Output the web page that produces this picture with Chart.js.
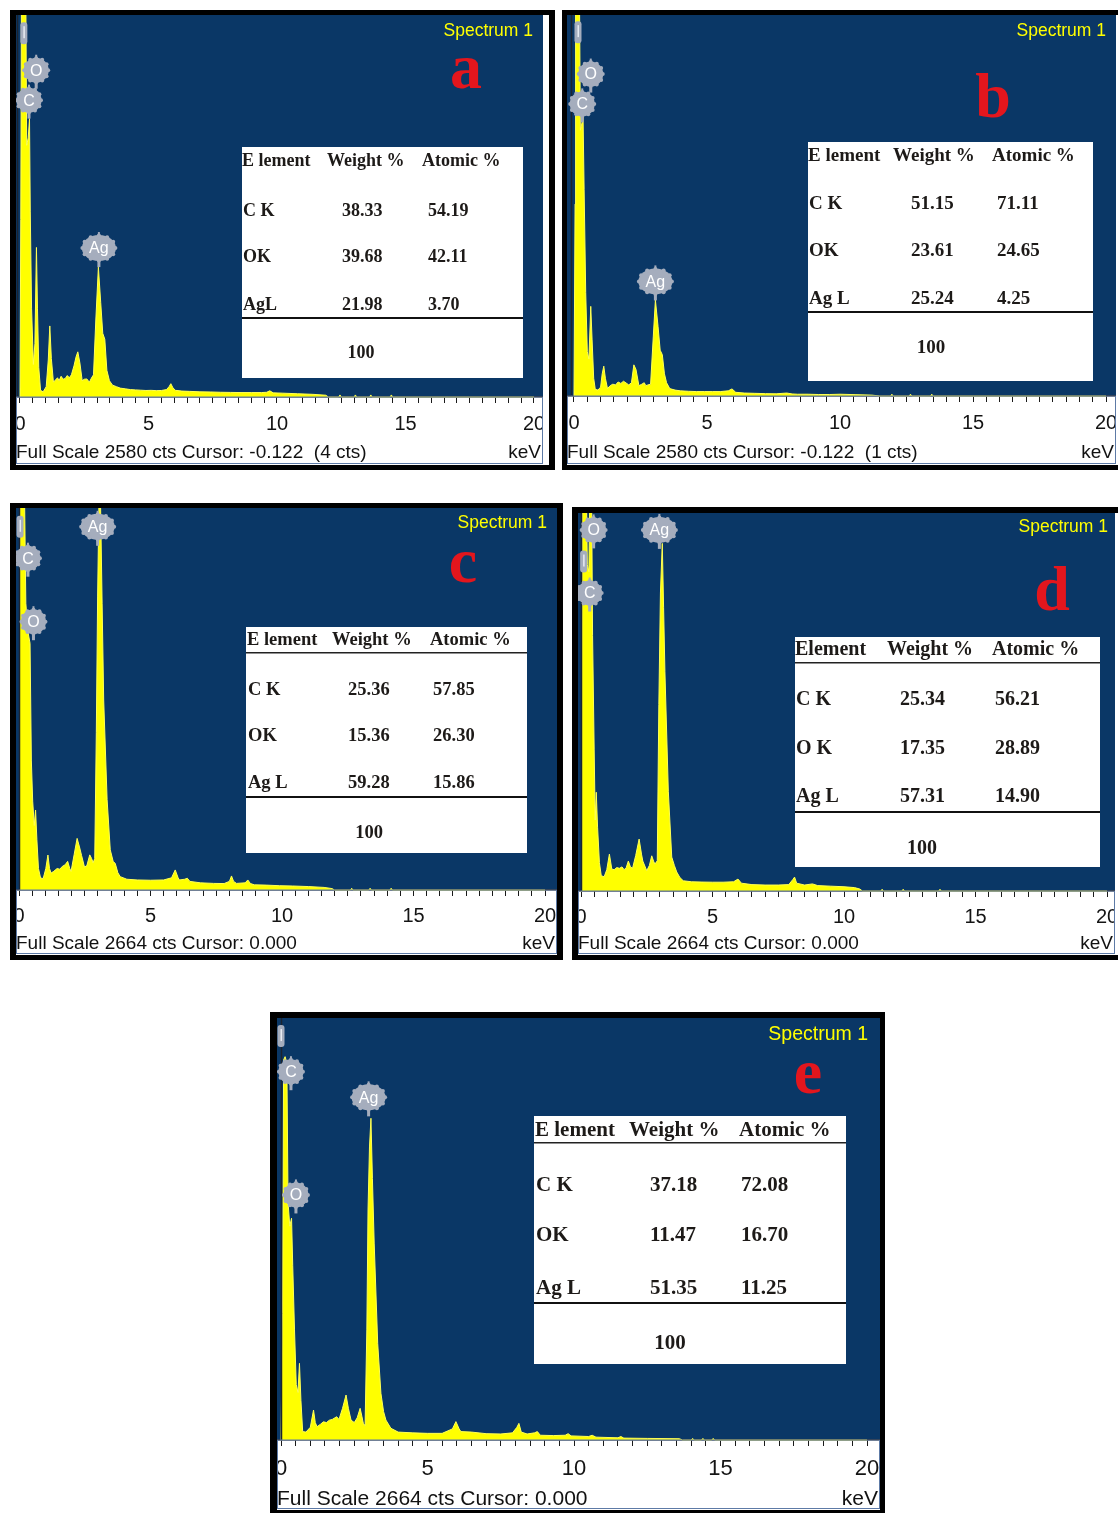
<!DOCTYPE html>
<html>
<head>
<meta charset="utf-8">
<script src="https://cdn.jsdelivr.net/npm/chart.js@4.4.1/dist/chart.umd.min.js"></script>
<style>
  html, body { margin: 0; padding: 0; background: #ffffff; }
  body { width: 1118px; height: 1513px; position: relative; overflow: hidden; }
  .frame { position: absolute; background: #000000; }
  .inner { position: absolute; background: #ffffff; }
  canvas { position: absolute; display: block; }
  #overlay { position: absolute; left: 0; top: 0; pointer-events: none; z-index: 10; }
</style>
</head>
<body>
<svg id="overlay" width="1118" height="1513" xmlns="http://www.w3.org/2000/svg"></svg>
<script>
// ---------- EDS spectra: [energy keV, counts] ----------
const SPECTRUM_A = [[0,0],[0.03,1200],[0.06,2900],[0.22,2900],[0.26,1700],[0.32,1750],[0.37,1880],[0.4,1250],[0.45,600],[0.52,220],[0.58,360],[0.64,1010],[0.68,600],[0.73,200],[0.8,45],[0.9,35],[1.02,70],[1.1,250],[1.16,480],[1.22,260],[1.3,100],[1.38,115],[1.46,130],[1.52,110],[1.6,140],[1.68,120],[1.76,125],[1.84,145],[1.92,130],[2.0,150],[2.1,210],[2.18,270],[2.25,305],[2.33,230],[2.42,110],[2.5,120],[2.6,122],[2.7,100],[2.78,128],[2.86,150],[2.95,520],[3.05,877],[3.14,640],[3.22,430],[3.3,390],[3.38,180],[3.48,110],[3.6,80],[3.75,70],[3.9,60],[4.1,55],[4.3,50],[4.5,48],[4.7,46],[4.9,44],[5.1,45],[5.3,43],[5.5,44],[5.7,50],[5.8,70],[5.87,90],[5.95,62],[6.05,45],[6.3,40],[6.6,38],[7.0,35],[7.4,34],[7.8,32],[8.2,31],[8.6,30],[9.0,30],[9.4,30],[9.6,32],[9.72,42],[9.85,28],[10.2,26],[10.8,22],[11.4,18],[11.9,12],[12.0,0],[12.4,0],[12.45,14],[12.5,0],[13.0,0],[13.05,14],[13.1,0],[13.6,0],[13.65,14],[13.7,0],[14.4,0],[14.45,14],[14.5,0],[20,0]];

const SPECTRUM_B = [[0,0],[0.04,1300],[0.06,2900],[0.2,2900],[0.24,1800],[0.3,1850],[0.34,1900],[0.38,1400],[0.44,700],[0.5,300],[0.56,250],[0.63,607],[0.68,380],[0.74,120],[0.8,45],[0.9,40],[1.0,60],[1.06,150],[1.12,202],[1.18,120],[1.26,50],[1.36,70],[1.46,80],[1.56,75],[1.66,95],[1.76,85],[1.86,100],[1.96,88],[2.06,75],[2.16,90],[2.25,211],[2.33,180],[2.44,70],[2.55,80],[2.64,90],[2.7,70],[2.78,75],[2.88,80],[2.98,400],[3.06,650],[3.16,470],[3.24,310],[3.32,280],[3.4,150],[3.48,90],[3.6,50],[3.8,40],[4.0,35],[4.3,32],[4.6,30],[4.9,30],[5.2,30],[5.5,30],[5.8,35],[5.94,48],[6.08,25],[6.4,20],[6.8,18],[7.2,16],[7.6,15],[8.0,20],[8.2,14],[8.4,12],[8.8,12],[9.2,10],[9.6,10],[10.0,12],[10.6,9],[11.2,6],[11.5,0],[11.9,0],[11.95,12],[12.0,0],[12.6,0],[12.65,12],[12.7,0],[13.4,0],[13.45,12],[13.5,0],[20,0]];

const SPECTRUM_C = [[0,0],[0.02,1500],[0.04,2900],[0.2,2900],[0.26,2000],[0.34,1800],[0.42,1720],[0.47,900],[0.52,620],[0.58,450],[0.63,558],[0.68,350],[0.74,150],[0.82,84],[0.92,80],[1.02,150],[1.1,244],[1.16,150],[1.22,118],[1.32,130],[1.45,150],[1.55,145],[1.65,165],[1.75,175],[1.85,200],[1.93,150],[1.98,130],[2.1,250],[2.21,360],[2.3,300],[2.38,240],[2.49,160],[2.58,170],[2.69,245],[2.76,220],[2.82,190],[2.88,220],[2.94,1100],[2.99,2050],[3.04,2700],[3.1,2700],[3.16,2000],[3.22,1325],[3.35,630],[3.47,280],[3.58,200],[3.66,185],[3.76,120],[3.85,93],[4.1,75],[4.5,70],[5.0,68],[5.5,70],[5.8,85],[5.94,140],[6.05,85],[6.1,70],[6.3,75],[6.4,82],[6.5,60],[6.9,50],[7.4,46],[7.8,45],[8.0,60],[8.08,98],[8.16,60],[8.27,46],[8.6,50],[8.7,70],[8.8,45],[8.95,36],[9.4,34],[9.9,30],[10.4,28],[11.0,24],[11.6,18],[11.9,10],[12.0,0],[12.6,0],[12.65,12],[12.7,0],[13.3,0],[13.35,12],[13.4,0],[14.1,0],[14.15,12],[14.2,0],[20,0]];

const SPECTRUM_D = [[0,0],[0.03,1500],[0.06,2900],[0.2,2900],[0.24,2300],[0.3,2250],[0.34,2900],[0.4,2900],[0.44,1800],[0.5,1000],[0.54,500],[0.58,696],[0.63,450],[0.7,200],[0.77,108],[0.88,100],[0.98,150],[1.08,260],[1.17,155],[1.26,150],[1.36,165],[1.46,160],[1.56,170],[1.64,150],[1.72,165],[1.8,211],[1.88,170],[1.96,160],[2.08,250],[2.21,366],[2.3,260],[2.35,211],[2.5,143],[2.6,180],[2.69,248],[2.76,210],[2.81,190],[2.9,213],[2.96,1314],[3.02,2100],[3.09,2450],[3.14,2000],[3.19,1549],[3.32,703],[3.45,239],[3.55,180],[3.64,134],[3.76,95],[3.89,72],[4.2,65],[4.6,63],[5.0,62],[5.4,62],[5.8,65],[5.97,84],[6.1,55],[6.5,45],[7.0,42],[7.5,42],[7.9,45],[8.05,80],[8.12,98],[8.2,55],[8.5,42],[8.8,50],[9.0,38],[9.5,34],[10.0,30],[10.4,24],[10.6,14],[10.7,0],[11.4,0],[11.45,12],[11.5,0],[12.2,0],[12.25,12],[12.3,0],[13.6,0],[13.65,12],[13.7,0],[20,0]];

const SPECTRUM_E = [[0,0],[0.05,800],[0.09,2400],[0.14,2420],[0.2,2380],[0.24,1500],[0.3,1350],[0.36,1400],[0.4,1100],[0.46,700],[0.52,350],[0.58,300],[0.63,484],[0.68,250],[0.74,53],[0.85,50],[1.0,80],[1.11,189],[1.17,110],[1.23,84],[1.35,100],[1.45,115],[1.55,110],[1.65,125],[1.75,130],[1.9,147],[1.98,130],[2.1,200],[2.22,284],[2.3,200],[2.39,126],[2.5,110],[2.6,140],[2.7,200],[2.76,150],[2.81,105],[2.87,90],[2.93,700],[2.97,1452],[3.02,1850],[3.07,2031],[3.12,1650],[3.18,1243],[3.3,610],[3.41,295],[3.5,180],[3.58,126],[3.75,74],[4.0,50],[4.5,45],[5.0,42],[5.5,42],[5.85,70],[5.97,116],[6.08,70],[6.14,53],[6.5,50],[7.0,40],[7.5,38],[7.9,45],[8.05,80],[8.12,105],[8.2,50],[8.4,38],[8.65,45],[8.75,53],[8.85,30],[9.3,28],[9.7,30],[9.8,40],[9.9,26],[10.5,22],[10.62,30],[10.75,18],[11.5,14],[11.6,22],[11.7,12],[12.5,10],[13.6,8],[13.7,0],[14.0,0],[14.05,10],[14.1,0],[14.35,0],[14.4,10],[14.45,0],[14.7,0],[14.75,10],[14.8,0],[20,0]];

// ---------- element markers: label, energy (keV), counts at badge centre ----------
const PEAKS_A = [{ label: '', keV: 0.15, cts: 2457 }, { label: 'O', keV: 0.63, cts: 2207 }, { label: 'C', keV: 0.35, cts: 2005 }, { label: 'Ag', keV: 3.07, cts: 1006 }];
const PEAKS_B = [{ label: '', keV: 0.15, cts: 2464 }, { label: 'O', keV: 0.63, cts: 2180 }, { label: 'C', keV: 0.31, cts: 1978 }, { label: 'Ag', keV: 3.06, cts: 776 }];
const PEAKS_C = [{ label: '', keV: 0.04, cts: 2533 }, { label: 'C', keV: 0.34, cts: 2314 }, { label: 'O', keV: 0.55, cts: 1871 }, { label: 'Ag', keV: 2.99, cts: 2533 }];
const PEAKS_D = [{ label: '', keV: 0.1, cts: 2322 }, { label: 'O', keV: 0.48, cts: 2545 }, { label: 'C', keV: 0.33, cts: 2100 }, { label: 'Ag', keV: 2.98, cts: 2545 }];
const PEAKS_E = [{ label: '', keV: 0.0, cts: 2550 }, { label: 'C', keV: 0.34, cts: 2325 }, { label: 'O', keV: 0.51, cts: 1547 }, { label: 'Ag', keV: 2.99, cts: 2163 }];

// ---------- acquisition readouts ----------
const FULL_SCALE = [2580, 2580, 2664, 2664, 2664];
const CURSOR_KEV = [-0.122, -0.122, 0.000, 0.000, 0.000];
const CURSOR_CTS = [4, 1, null, null, null];
const PANEL_LETTERS = ['a', 'b', 'c', 'd', 'e'];
const SPECTRUM_TITLE = 'Spectrum 1';
const KEV_TICK_LABELS = [0, 5, 10, 15, 20];
const AXIS_UNIT = 'keV';

// ---------- quantification tables ----------
const TABLE_HEAD = ['E lement', 'Weight %', 'Atomic %'];
const TABLE_HEAD_D = ['Element', 'Weight %', 'Atomic %'];
const ELEMENT_ROWS_A = ['C K', 'OK', 'AgL'];
const ELEMENT_ROWS_B = ['C K', 'OK', 'Ag L'];
const ELEMENT_ROWS_C = ['C K', 'OK', 'Ag L'];
const ELEMENT_ROWS_D = ['C K', 'O K', 'Ag L'];
const ELEMENT_ROWS_E = ['C K', 'OK', 'Ag L'];
const WEIGHT_A = [38.33, 39.68, 21.98], ATOMIC_A = [54.19, 42.11, 3.70];
const WEIGHT_B = [51.15, 23.61, 25.24], ATOMIC_B = [71.11, 24.65, 4.25];
const WEIGHT_C = [25.36, 15.36, 59.28], ATOMIC_C = [57.85, 26.30, 15.86];
const WEIGHT_D = [25.34, 17.35, 57.31], ATOMIC_D = [56.21, 28.89, 14.90];
const WEIGHT_E = [37.18, 11.47, 51.35], ATOMIC_E = [72.08, 16.70, 11.25];
const TOTAL = 100;

// ---------- panel layout ----------
const PANELS = [
  { frame: [10, 10, 545, 460], inner: [16, 15, 533, 450], plot: [16, 15, 527, 450], baseline: 397, zeroX: 20, ppk: 25.7,
    spectrum: SPECTRUM_A, peaks: PEAKS_A, tickFont: 20, tickPad: 9, footFont: 19, footY: 458, specFont: 17.5, specRight: 533, specY: 36,
    letterX: 466, letterY: 88,
    table: { box: [242, 147, 281, 231], head: TABLE_HEAD, headY: 160, headX: [242, 327, 422], headLine: null,
      rows: ELEMENT_ROWS_A, weight: WEIGHT_A, atomic: ATOMIC_A, rowY: [210, 256, 304], nameX: 243, weightX: 342, atomicX: 428,
      divY: 317, totalY: 352, totalX: 361, font: 18 } },
  { frame: [562, 10, 562, 460], inner: [567, 15, 551, 450], plot: [567, 15, 549, 450], baseline: 396, zeroX: 574, ppk: 26.6,
    spectrum: SPECTRUM_B, peaks: PEAKS_B, tickFont: 20, tickPad: 9, footFont: 19, footY: 458, specFont: 17.5, specRight: 1106, specY: 36,
    letterX: 993, letterY: 117,
    table: { box: [808, 142, 285, 239], head: TABLE_HEAD, headY: 155, headX: [808, 893, 992], headLine: null,
      rows: ELEMENT_ROWS_B, weight: WEIGHT_B, atomic: ATOMIC_B, rowY: [203, 250, 298], nameX: 809, weightX: 911, atomicX: 997,
      divY: 311, totalY: 347, totalX: 931, font: 19 } },
  { frame: [10, 503, 553, 457], inner: [16, 508, 541, 447], plot: [16, 508, 541, 447], baseline: 890, zeroX: 19, ppk: 26.3,
    spectrum: SPECTRUM_C, peaks: PEAKS_C, tickFont: 20, tickPad: 8, footFont: 19, footY: 949, specFont: 17.5, specRight: 547, specY: 528,
    letterX: 463, letterY: 582,
    table: { box: [246, 627, 281, 226], head: TABLE_HEAD, headY: 639, headX: [247, 332, 430], headLine: 652,
      rows: ELEMENT_ROWS_C, weight: WEIGHT_C, atomic: ATOMIC_C, rowY: [689, 735, 782], nameX: 248, weightX: 348, atomicX: 433,
      divY: 796, totalY: 832, totalX: 369, font: 18.5 } },
  { frame: [572, 507, 552, 453], inner: [578, 513, 540, 442], plot: [578, 513, 537, 442], baseline: 891, zeroX: 581, ppk: 26.3,
    spectrum: SPECTRUM_D, peaks: PEAKS_D, tickFont: 20, tickPad: 8, footFont: 19, footY: 949, specFont: 17.5, specRight: 1108, specY: 532,
    letterX: 1052, letterY: 610,
    table: { box: [795, 637, 305, 230], head: TABLE_HEAD_D, headY: 648, headX: [795, 887, 992], headLine: 662,
      rows: ELEMENT_ROWS_D, weight: WEIGHT_D, atomic: ATOMIC_D, rowY: [698, 747, 795], nameX: 796, weightX: 900, atomicX: 995,
      divY: 811, totalY: 847, totalX: 922, font: 20 } },
  { frame: [270, 1012, 615, 504], inner: [277, 1018, 603, 492], plot: [277, 1018, 603, 492], baseline: 1440, zeroX: 281, ppk: 29.3,
    spectrum: SPECTRUM_E, peaks: PEAKS_E, tickFont: 22, tickPad: 10, footFont: 21, footY: 1505, specFont: 19.5, specRight: 868, specY: 1040,
    letterX: 808, letterY: 1093,
    table: { box: [534, 1116, 312, 248], head: TABLE_HEAD, headY: 1129, headX: [535, 629, 739], headLine: 1142,
      rows: ELEMENT_ROWS_E, weight: WEIGHT_E, atomic: ATOMIC_E, rowY: [1184, 1234, 1287], nameX: 536, weightX: 650, atomicX: 741,
      divY: 1302, totalY: 1342, totalX: 670, font: 21 } }
];

const PLOT_BLUE = '#0a3766';
const TRACE_YELLOW = '#ffff00';
const BADGE_GREY = '#a5adbd';
const SANS = '"Liberation Sans", Arial, sans-serif';
const SERIF = '"Liberation Serif", "Times New Roman", serif';

// tick marks every 0.5 keV, labelled every 5 keV
const TICK_VALUES = [];
for (let v = 0; v <= 20; v += 0.5) TICK_VALUES.push(v);

// ---------- Chart.js plugins ----------
const plotBackground = {
  id: 'plotBackground',
  beforeDraw(chart) {
    const { ctx, chartArea: a, width } = chart;
    ctx.save();
    ctx.fillStyle = PLOT_BLUE;
    ctx.fillRect(0, 0, width, a.bottom);
    ctx.restore();
  }
};

function drawBadge(ctx, x, y, text) {
  ctx.fillStyle = BADGE_GREY;
  if (!text) {
    ctx.beginPath();
    ctx.roundRect(x - 3.5, y - 11, 7, 22, 3);
    ctx.fill();
    ctx.fillStyle = '#e8ebf2';
    ctx.fillRect(x - 0.5, y - 7, 1.5, 12);
    return;
  }
  const rx = text.length > 1 ? 17 : 12.5;
  const ry = text.length > 1 ? 13 : 12.5;
  // pin under the badge pointing at the peak
  ctx.fillRect(x - 1.5, y + ry - 2, 3, 8);
  ctx.fillRect(x - 1, y - ry - 3, 2, 4);
  ctx.beginPath();
  ctx.ellipse(x, y, rx, ry, 0, 0, Math.PI * 2);
  ctx.fill();
  for (let k = 0; k < 12; k++) {
    const t = k * Math.PI / 6;
    ctx.beginPath();
    ctx.arc(x + Math.cos(t) * (rx - 0.5), y + Math.sin(t) * (ry - 0.5), 2, 0, Math.PI * 2);
    ctx.fill();
  }
  ctx.fillStyle = '#ffffff';
  ctx.font = '16px ' + SANS;
  ctx.textAlign = 'center';
  ctx.textBaseline = 'middle';
  ctx.fillText(text, x, y + 1);
}

const overlays = {
  id: 'overlays',
  afterDatasetsDraw(chart, args, opts) {
    const { ctx, chartArea: a, scales, width } = chart;
    ctx.save();
    ctx.beginPath();
    ctx.rect(0, 0, width, a.bottom);
    ctx.clip();
    // cursor marker
    const cx = Math.round(scales.x.getPixelForValue(opts.cursor)) + 0.5;
    ctx.strokeStyle = '#1c2430';
    ctx.lineWidth = 1.5;
    ctx.beginPath();
    ctx.moveTo(cx, 0);
    ctx.lineTo(cx, a.bottom);
    ctx.stroke();
    // element badges
    opts.peaks.forEach(p => {
      drawBadge(ctx, scales.x.getPixelForValue(p.keV), scales.y.getPixelForValue(p.cts), p.label);
    });
    ctx.restore();
  },
  afterDraw(chart) {
    const { ctx, chartArea: a, width, height } = chart;
    ctx.save();
    ctx.strokeStyle = '#5d7aa6';
    ctx.lineWidth = 1;
    ctx.strokeRect(0.5, a.bottom, width - 1, height - a.bottom - 1.5);
    ctx.restore();
  }
};

// ---------- build panels ----------
function box(cls, r) {
  const d = document.createElement('div');
  d.className = cls;
  d.style.left = r[0] + 'px';
  d.style.top = r[1] + 'px';
  d.style.width = r[2] + 'px';
  d.style.height = r[3] + 'px';
  document.body.appendChild(d);
  return d;
}

PANELS.forEach((p, i) => {
  box('frame', p.frame);
  box('inner', p.inner);
  const [px, py, pw, ph] = p.plot;
  const cv = document.createElement('canvas');
  cv.width = pw; cv.height = ph;
  cv.style.left = px + 'px'; cv.style.top = py + 'px';
  cv.style.width = pw + 'px'; cv.style.height = ph + 'px';
  document.body.appendChild(cv);
  const axisH = py + ph - p.baseline;

  new Chart(cv.getContext('2d'), {
    type: 'line',
    data: {
      datasets: [{
        data: p.spectrum.map(([e, c]) => ({ x: e, y: c })),
        fill: 'origin',
        backgroundColor: TRACE_YELLOW,
        borderColor: '#ffff55',
        borderWidth: 1,
        pointRadius: 0,
        tension: 0,
        clip: false
      }]
    },
    options: {
      responsive: false,
      animation: false,
      devicePixelRatio: 1,
      layout: { padding: 0, autoPadding: false },
      plugins: {
        legend: { display: false },
        tooltip: { enabled: false },
        overlays: { cursor: CURSOR_KEV[i], peaks: p.peaks }
      },
      scales: {
        x: {
          type: 'linear',
          min: (px - p.zeroX) / p.ppk,
          max: (px + pw - p.zeroX) / p.ppk,
          afterBuildTicks: s => { s.ticks = TICK_VALUES.map(v => ({ value: v })); },
          afterFit: s => { s.height = axisH; s.paddingLeft = 0; s.paddingRight = 0; },
          ticks: {
            autoSkip: false, maxRotation: 0, minRotation: 0, padding: p.tickPad,
            color: '#141414',
            font: { family: SANS, size: p.tickFont },
            callback: v => KEV_TICK_LABELS.includes(v) ? String(v) : ''
          },
          grid: { display: true, drawOnChartArea: false, drawTicks: true, tickLength: 6, tickColor: '#1a1a1a', tickWidth: 1 },
          border: { display: true, color: '#111111', width: 1.5 }
        },
        y: { type: 'linear', display: false, min: 0, max: FULL_SCALE[i] }
      }
    },
    plugins: [plotBackground, overlays]
  });
});

// ---------- text layer: readouts, letters, tables ----------
const svg = document.getElementById('overlay');
const NS = 'http://www.w3.org/2000/svg';
function text(str, x, y, o) {
  const t = document.createElementNS(NS, 'text');
  t.setAttribute('x', x);
  t.setAttribute('y', y);
  t.setAttribute('font-family', o.family || SANS);
  t.setAttribute('font-size', o.size);
  if (o.weight) t.setAttribute('font-weight', o.weight);
  t.setAttribute('fill', o.fill || '#111111');
  t.setAttribute('text-anchor', o.anchor || 'start');
  t.style.whiteSpace = 'pre';
  t.textContent = str;
  svg.appendChild(t);
}
function rect(x, y, w, h, fill) {
  const r = document.createElementNS(NS, 'rect');
  r.setAttribute('x', x); r.setAttribute('y', y);
  r.setAttribute('width', w); r.setAttribute('height', h);
  r.setAttribute('fill', fill);
  svg.appendChild(r);
}

PANELS.forEach((p, i) => {
  const [px, py, pw] = p.plot;
  // readout line under the axis
  let readout = 'Full Scale ' + FULL_SCALE[i] + ' cts Cursor: ' + CURSOR_KEV[i].toFixed(3);
  if (CURSOR_CTS[i] !== null) readout += '  (' + CURSOR_CTS[i] + ' cts)';
  text(readout, px, p.footY, { size: p.footFont });
  text(AXIS_UNIT, px + pw - 2, p.footY, { size: p.footFont, anchor: 'end' });
  // spectrum title
  text(SPECTRUM_TITLE, p.specRight, p.specY, { size: p.specFont, fill: '#ffff00', anchor: 'end' });
  // panel letter
  text(PANEL_LETTERS[i], p.letterX, p.letterY, { size: 64, family: SERIF, weight: 'bold', fill: '#e3161d', anchor: 'middle' });

  // quantification table
  const t = p.table;
  const s = t.font;
  const dy = s * 0.34;
  const tOpt = { size: s, family: SERIF, weight: 'bold', fill: '#1d1a18' };
  rect(t.box[0], t.box[1], t.box[2], t.box[3], '#ffffff');
  t.head.forEach((h, k) => text(h, t.headX[k], t.headY + dy, tOpt));
  if (t.headLine !== null) rect(t.box[0], t.headLine, t.box[2], 1.5, '#222222');
  t.rows.forEach((name, k) => {
    text(name, t.nameX, t.rowY[k] + dy, tOpt);
    text(t.weight[k].toFixed(2), t.weightX, t.rowY[k] + dy, tOpt);
    text(t.atomic[k].toFixed(2), t.atomicX, t.rowY[k] + dy, tOpt);
  });
  rect(t.box[0], t.divY, t.box[2], 2, '#111111');
  text(String(TOTAL), t.totalX, t.totalY + dy, Object.assign({ anchor: 'middle' }, tOpt));
});
</script>
</body>
</html>
